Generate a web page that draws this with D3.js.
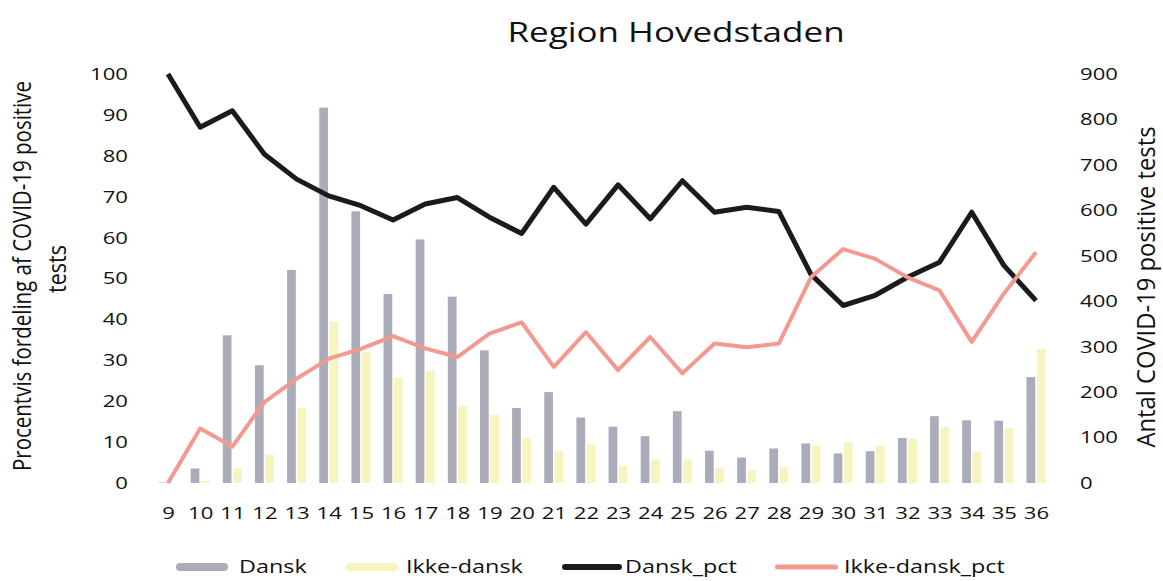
<!DOCTYPE html>
<html>
<head>
<meta charset="utf-8">
<script src="https://cdn.jsdelivr.net/npm/d3@7"></script>
<style>
  body { margin: 0; background: #fff; }
  svg { display: block; font-family: "Open Sans", sans-serif; }
</style>
</head>
<body>
<svg width="1163" height="581"></svg>
<script>
// week numbers on the x axis
const weeks = [9, 10, 11, 12, 13, 14, 15, 16, 17, 18, 19, 20, 21, 22, 23, 24, 25, 26, 27, 28, 29, 30, 31, 32, 33, 34, 35, 36];

// counts (right axis)
const dansk = [1, 32, 325, 259, 469, 826, 598, 416, 536, 410, 292, 165, 200, 144, 124, 103, 158, 71, 56, 76, 87, 65, 70, 99, 147, 138, 137, 233];
const ikkeDansk = [0, 5, 32, 62, 165, 355, 288, 232, 247, 170, 150, 100, 70, 86, 38, 52, 52, 33, 28, 35, 82, 90, 82, 97, 123, 68, 121, 295];

// shares in percent (left axis)
const danskPct = [100, 87, 91, 80.4, 74.3, 70.2, 67.8, 64.3, 68.2, 69.8, 65, 61, 72.3, 63.3, 72.9, 64.6, 73.9, 66.2, 67.4, 66.4, 51, 43.4, 45.9, 50.3, 54, 66.2, 53.2, 44.6];
const ikkePct = [0, 13.3, 8.9, 19.8, 25.5, 30.4, 32.8, 35.9, 32.9, 30.8, 36.5, 39.3, 28.4, 36.9, 27.6, 35.7, 26.8, 34.1, 33.2, 34.1, 50.3, 57.2, 54.8, 50.3, 47.1, 34.5, 46.3, 56.4];

const pctTicks = [0, 10, 20, 30, 40, 50, 60, 70, 80, 90, 100];
const countTicks = [0, 100, 200, 300, 400, 500, 600, 700, 800, 900];

const colors = { dansk: "#abacb9", ikke: "#f7f4bf", dpct: "#1b1b1b", ipct: "#f29a90" };
const stretch = 1.3; // the reference picture is widened horizontally

const svg = d3.select("svg");

const x = d3.scalePoint().domain(weeks).range([168, 1036]);
const yPct = d3.scaleLinear().domain([0, 100]).range([483, 74]);
const yCnt = d3.scaleLinear().domain([0, 900]).range([483, 74]);
const inner = d3.scaleBand().domain(["dansk", "ikke"]).range([-9.5, 9.5]).paddingInner(0.15);

function widen(sel, k) {
    sel.each(function () {
        const t = d3.select(this);
        const tx = +t.attr("x") || 0, ty = +t.attr("y") || 0;
        t.attr("x", 0).attr("y", 0).attr("transform", `translate(${tx},${ty}) scale(${k},1)`);
    });
}

// bars
const barData = weeks.map((w, i) => ({ w, dansk: dansk[i], ikke: ikkeDansk[i] }));
const groups = svg.append("g").selectAll("g")
    .data(barData)
    .enter().append("g")
    .attr("transform", d => `translate(${x(d.w)},0)`);

groups.append("rect")
    .attr("x", inner("dansk"))
    .attr("width", inner.bandwidth())
    .attr("y", d => yCnt(d.dansk))
    .attr("height", d => yCnt(0) - yCnt(d.dansk))
    .attr("fill", colors.dansk);

groups.append("rect")
    .attr("x", inner("ikke"))
    .attr("width", inner.bandwidth())
    .attr("y", d => yCnt(d.ikke))
    .attr("height", d => yCnt(0) - yCnt(d.ikke))
    .attr("fill", colors.ikke);

// lines
const line = d3.line().x(d => x(d[0])).y(d => yPct(d[1]));
svg.append("path")
    .datum(weeks.map((w, i) => [w, danskPct[i]]))
    .attr("d", line)
    .attr("fill", "none")
    .attr("stroke", colors.dpct)
    .attr("stroke-width", 5)
    .attr("stroke-linejoin", "round");
svg.append("path")
    .datum(weeks.map((w, i) => [w, ikkePct[i]]))
    .attr("d", line)
    .attr("fill", "none")
    .attr("stroke", colors.ipct)
    .attr("stroke-width", 4)
    .attr("stroke-linejoin", "round");

// axes
const tickFont = 17;
const leftAx = svg.append("g")
    .attr("transform", "translate(128,0)")
    .call(d3.axisLeft(yPct).tickValues(pctTicks).tickSize(0).tickPadding(0));
const rightAx = svg.append("g")
    .attr("transform", "translate(1080,0)")
    .call(d3.axisRight(yCnt).tickValues(countTicks).tickSize(0).tickPadding(0));
const bottomAx = svg.append("g")
    .attr("transform", "translate(0,507)")
    .call(d3.axisBottom(x).tickSize(0).tickPadding(0));

[leftAx, rightAx, bottomAx].forEach(ax => {
    ax.select(".domain").remove();
    ax.selectAll("text")
        .attr("font-family", "Open Sans")
        .attr("font-size", tickFont)
        .attr("fill", "#111");
    widen(ax.selectAll("text"), stretch);
});

// title
svg.append("text")
    .attr("x", 676).attr("y", 42)
    .attr("text-anchor", "middle")
    .attr("font-size", 28)
    .attr("fill", "#111")
    .text("Region Hovedstaden")
    .call(s => widen(s, 1.25));

// axis titles (rotated)
const axisTitles = [
    { text: "Procentvis fordeling af COVID-19 positive", x: 31, y: 276, len: 390 },
    { text: "tests", x: 66, y: 269, len: 48 },
    { text: "Antal COVID-19 positive tests", x: 1155, y: 287, len: 321 }
];
svg.selectAll(".axis-title")
    .data(axisTitles)
    .enter().append("text")
    .attr("class", "axis-title")
    .attr("text-anchor", "middle")
    .attr("font-size", 19)
    .attr("fill", "#111")
    .attr("textLength", d => d.len)
    .attr("lengthAdjust", "spacingAndGlyphs")
    .attr("transform", d => `translate(${d.x},${d.y}) scale(${stretch},1) rotate(-90)`)
    .text(d => d.text);

// legend
const legendItems = [
    { label: "Dansk", color: colors.dansk, x0: 176, x1: 228, tx: 239, h: 8 },
    { label: "Ikke-dansk", color: colors.ikke, x0: 346, x1: 398, tx: 406, h: 8 },
    { label: "Dansk_pct", color: colors.dpct, x0: 562, x1: 622, tx: 625, h: 6 },
    { label: "Ikke-dansk_pct", color: colors.ipct, x0: 775, x1: 838, tx: 844, h: 5 }
];
const legY = 567;
const leg = svg.append("g");
leg.selectAll("rect")
    .data(legendItems)
    .enter().append("rect")
    .attr("x", d => d.x0)
    .attr("y", d => legY - d.h / 2)
    .attr("width", d => d.x1 - d.x0)
    .attr("height", d => d.h)
    .attr("rx", d => d.h / 2)
    .attr("fill", d => d.color);
leg.selectAll("text.leg")
    .data(legendItems)
    .enter().append("text")
    .attr("class", "leg")
    .attr("x", d => d.tx)
    .attr("y", legY + 6)
    .attr("font-size", 18)
    .attr("fill", "#111")
    .text(d => d.label)
    .call(s => widen(s, stretch));
</script>
</body>
</html>
